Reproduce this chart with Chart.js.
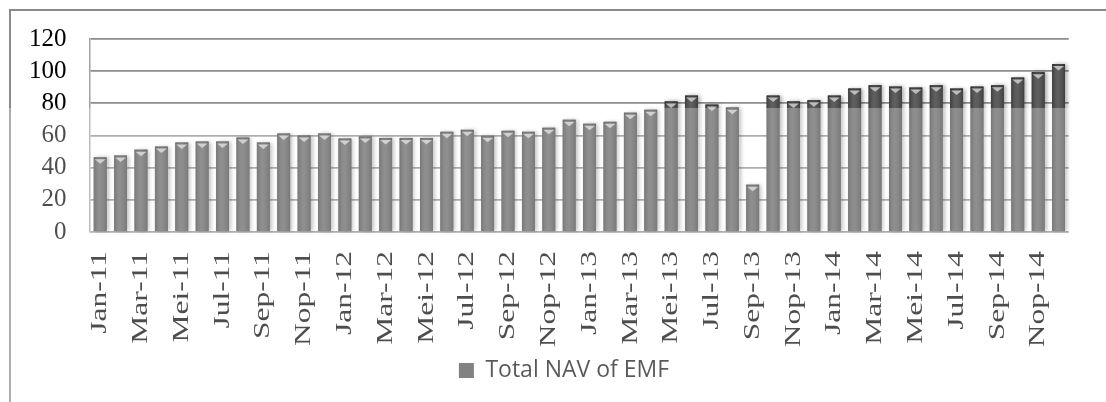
<!DOCTYPE html>
<html>
<head>
<meta charset="utf-8">
<script src="https://cdn.jsdelivr.net/npm/chart.js@4.4.1/dist/chart.umd.min.js"></script>
<style>
  html, body { margin: 0; padding: 0; background: #ffffff; }
  #chart { display: block; }
</style>
</head>
<body>
<canvas id="chart" width="1106" height="402"></canvas>
<script>
// Monthly categories, Jan 2011 - Dec 2014 (Indonesian month abbreviations)
const months = [
  'Jan-11','Feb-11','Mar-11','Apr-11','Mei-11','Jun-11','Jul-11','Agu-11','Sep-11','Okt-11','Nop-11','Des-11',
  'Jan-12','Feb-12','Mar-12','Apr-12','Mei-12','Jun-12','Jul-12','Agu-12','Sep-12','Okt-12','Nop-12','Des-12',
  'Jan-13','Feb-13','Mar-13','Apr-13','Mei-13','Jun-13','Jul-13','Agu-13','Sep-13','Okt-13','Nop-13','Des-13',
  'Jan-14','Feb-14','Mar-14','Apr-14','Mei-14','Jun-14','Jul-14','Agu-14','Sep-14','Okt-14','Nop-14','Des-14'
];

// Total NAV of EMF per month
const navValues = [
  46.4, 47.5, 51.2, 53.1, 55.6, 56.2, 56.2, 58.7, 55.6, 61.2, 60.0, 61.2,
  58.1, 59.4, 58.5, 58.5, 58.5, 62.3, 63.5, 59.8, 62.9, 62.3, 64.8, 69.8,
  67.3, 68.5, 74.2, 76.0, 81.2, 84.8, 79.2, 77.3, 29.4, 84.8, 81.2, 81.9,
  84.8, 89.2, 91.2, 90.4, 89.8, 91.2, 89.2, 90.4, 91.2, 96.0, 99.4, 104.4
];

const seriesName = 'Total NAV of EMF';
const yTickValues = [0, 20, 40, 60, 80, 100, 120];

// Outer frame of the chart box
const framePlugin = {
  id: 'frame',
  beforeDraw(chart) {
    const ctx = chart.ctx;
    ctx.save();
    ctx.strokeStyle = '#8a8a8a';
    ctx.lineWidth = 2;
    ctx.beginPath();
    ctx.moveTo(10, chart.height);
    ctx.lineTo(10, 10);
    ctx.lineTo(chart.width, 10);
    ctx.stroke();
    ctx.restore();
  }
};

// Soft shadow behind each bar, and cylinder shading with a pointed cap on top
const barLookPlugin = {
  id: 'barLook',
  beforeDatasetsDraw(chart) {
    const ctx = chart.ctx;
    const meta = chart.getDatasetMeta(0);
    ctx.save();
    ctx.shadowColor = 'rgba(0,0,0,0.35)';
    ctx.shadowBlur = 4;
    ctx.shadowOffsetX = 2;
    ctx.shadowOffsetY = 0;
    ctx.fillStyle = '#4d4d4d';
    meta.data.forEach(el => {
      const p = el.getProps(['x', 'y', 'width', 'base'], true);
      ctx.fillRect(p.x - p.width / 2, p.y, p.width, p.base - p.y);
    });
    ctx.restore();
  },
  afterDatasetsDraw(chart) {
    const ctx = chart.ctx;
    const meta = chart.getDatasetMeta(0);
    ctx.save();
    meta.data.forEach(el => {
      const p = el.getProps(['x', 'y', 'width', 'base'], true);
      const left = p.x - p.width / 2;
      const g = ctx.createLinearGradient(left, 0, left + p.width, 0);
      g.addColorStop(0, 'rgba(0,0,0,0.22)');
      g.addColorStop(0.45, 'rgba(255,255,255,0.10)');
      g.addColorStop(1, 'rgba(0,0,0,0.18)');
      ctx.fillStyle = g;
      ctx.fillRect(left, p.y, p.width, p.base - p.y);
      // cap
      ctx.fillStyle = 'rgba(0,0,0,0.25)';
      ctx.fillRect(left, p.y, p.width, 2);
      ctx.fillStyle = '#bcbcbc';
      ctx.beginPath();
      ctx.moveTo(p.x - 5.5, p.y + 2);
      ctx.lineTo(p.x + 5.5, p.y + 2);
      ctx.lineTo(p.x, p.y + 6.5);
      ctx.closePath();
      ctx.fill();
    });
    ctx.restore();

    // month labels are drawn next (ticks.z = 1) with a tall, narrow glyph shape
    const xs = chart.scales.x;
    const y0 = xs.top + xs.options.ticks.padding;
    ctx.save();
    ctx.translate(0, y0);
    ctx.scale(1, 1.34);
    ctx.translate(0, -y0);
  },
  afterDraw(chart) {
    const ctx = chart.ctx;
    ctx.restore();
    // pale wash over the lower part of the chart box
    ctx.save();
    ctx.fillStyle = 'rgba(255,255,255,0.3)';
    ctx.fillRect(0, 108, chart.width, chart.height - 108);
    ctx.restore();
  }
};

new Chart(document.getElementById('chart'), {
  type: 'bar',
  data: {
    labels: months,
    datasets: [{
      label: seriesName,
      data: navValues,
      backgroundColor: '#4d4d4d',
      borderWidth: 0,
      categoryPercentage: 1.0,
      barPercentage: 0.63
    }]
  },
  options: {
    responsive: false,
    devicePixelRatio: 1,
    animation: false,
    layout: { padding: { left: 45, right: 23, top: 39, bottom: 10 } },
    plugins: {
      legend: {
        position: 'bottom',
        labels: {
          boxWidth: 15,
          boxHeight: 15,
          padding: 10,
          color: '#111111',
          font: { family: "'Open Sans', sans-serif", size: 23 }
        }
      },
      tooltip: { enabled: false }
    },
    scales: {
      x: {
        grid: { display: false, drawTicks: false },
        border: { display: false },
        ticks: {
          z: 1,
          autoSkip: false,
          minRotation: 90,
          maxRotation: 90,
          padding: 19,
          color: '#000000',
          font: { family: "'Liberation Serif', 'Times New Roman', serif", size: 23.5 },
          callback: function (value, index) {
            return index % 2 === 0 ? this.getLabelForValue(value) : '';
          }
        },
        afterFit(scale) { scale.height = 117; }
      },
      y: {
        min: 0,
        max: 120,
        grid: { color: '#8c8c8c', lineWidth: 1.8, drawTicks: false },
        border: { display: true, color: '#a0a0a0', width: 1.5 },
        afterBuildTicks(scale) { scale.ticks = yTickValues.map(v => ({ value: v })); },
        ticks: {
          autoSkip: false,
          mirror: true,
          crossAlign: 'far',
          padding: -61,
          color: '#000000',
          font: { family: "'Liberation Serif', 'Times New Roman', serif", size: 25 }
        },
        afterFit(scale) { scale.width = 45; }
      }
    }
  },
  plugins: [framePlugin, barLookPlugin]
});
</script>
</body>
</html>
